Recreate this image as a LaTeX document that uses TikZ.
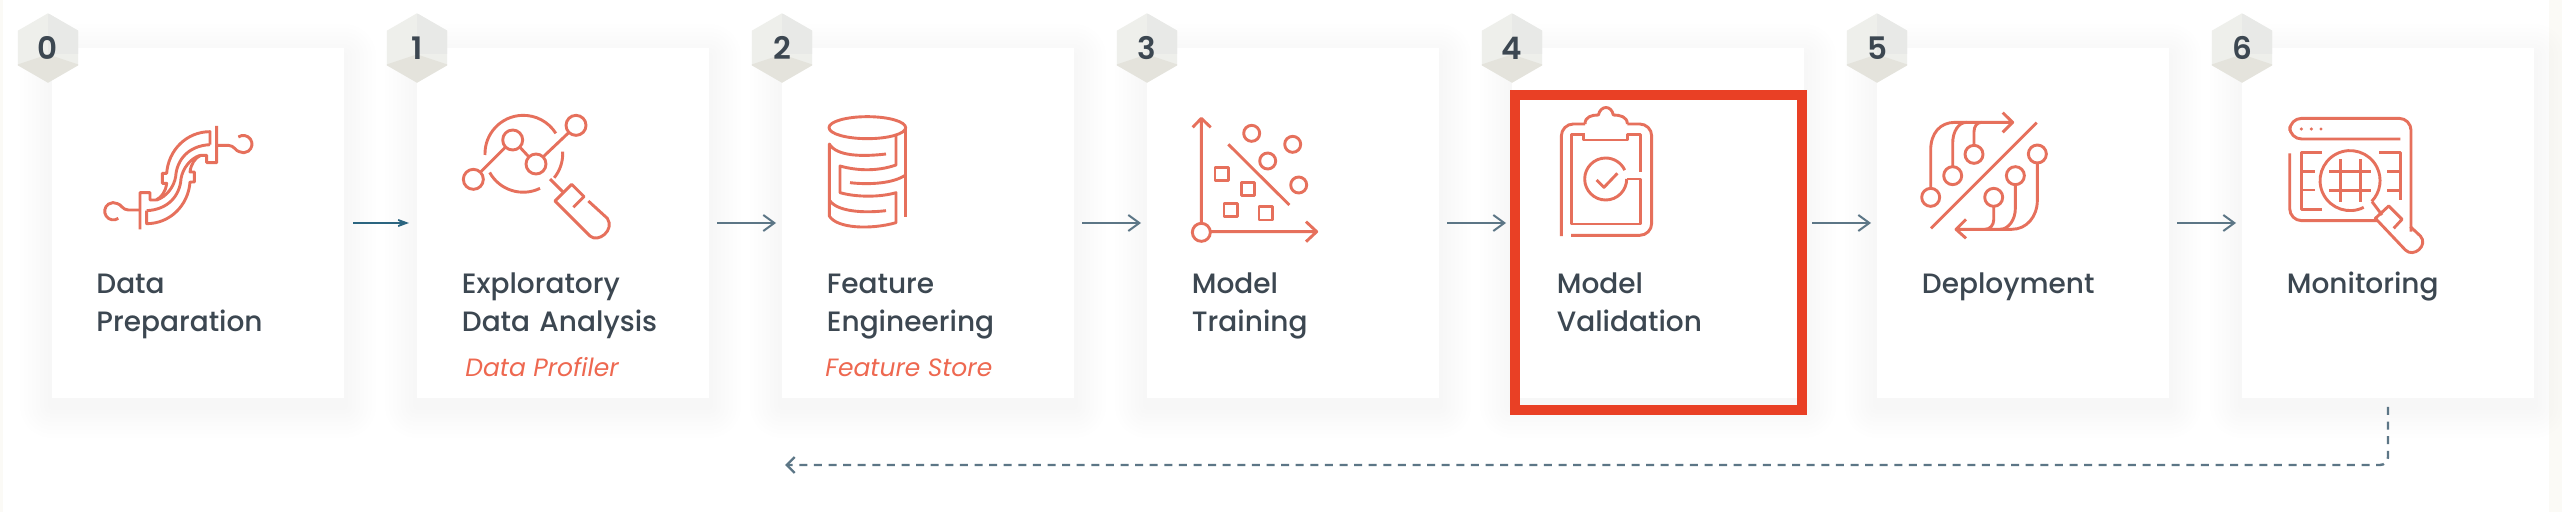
\documentclass[tikz,border=0pt]{standalone}
\usepackage{fontspec}
\setmainfont{Poppins}[UprightFont=* Medium, BoldFont=* SemiBold, ItalicFont=* Italic]
\usetikzlibrary{shapes.geometric, arrows.meta, positioning, backgrounds}
\definecolor{iconred}{RGB}{230, 112, 92}
\definecolor{toolred}{RGB}{238, 104, 80}
\definecolor{boxred}{RGB}{233, 64, 37}
\definecolor{inkgrey}{RGB}{60, 71, 81}
\definecolor{flowgrey}{RGB}{92, 118, 134}
\definecolor{flowteal}{RGB}{43, 101, 128}
\definecolor{facelight}{RGB}{238, 239, 235}
\definecolor{faceright}{RGB}{232, 233, 231}
\definecolor{facebase}{RGB}{228, 227, 220}
\definecolor{edgetint}{RGB}{251, 250, 246}
\tikzset{
  stepcard/.style={fill=white, minimum width=146pt, minimum height=175pt, inner sep=0pt, outer sep=0pt},
  stepbadge/.style={regular polygon, regular polygon sides=6, shape border rotate=30, minimum size=69.4pt/2,
    inner sep=0pt, fill=facelight, text=inkgrey, font=\fontsize{15.5pt}{16pt}\selectfont\bfseries,
    path picture={
      \coordinate (cubemid) at ([yshift=-3.2pt]path picture bounding box.center);
      \fill[faceright] (cubemid) rectangle ([xshift=20pt,yshift=20pt]cubemid);
      \fill[facebase] (cubemid) -- ++(-45,15) -- ++(0,40) -- ++(90,0) -- ++(0,-40) -- cycle;
    }},
  steplabel/.style={anchor=north west, inner sep=0pt, text width=135pt, align=left, text=inkgrey,
    font=\fontsize{14pt}{19pt}\selectfont, execute at begin node=\strut},
  steptool/.style={anchor=base west, inner sep=0pt, text=toolred, font=\fontsize{12.5pt}{14pt}\selectfont\itshape},
  flowarrow/.style={draw=flowgrey, line width=1pt, -{Straight Barb[length=5.5pt,width=8pt]}, shorten <=8pt/2, shorten >=6pt/2},
  firstarrow/.style={draw=flowteal, line width=0.8pt, -{Stealth[length=9.5pt,width=7pt,inset=6pt]}, shorten <=9pt/2, shorten >=8pt/2},
  loopback/.style={draw=flowgrey, line width=1.2pt, dash pattern=on 4pt off 3.3pt, rounded corners=4pt, -{Straight Barb[length=4pt,width=8pt]}},
  highlightbox/.style={draw=boxred, line width=5pt, minimum width=143.5pt, minimum height=157.5pt},
  iconline/.style={x=0.16667pt, y=-0.16667pt, color=iconred, line width=1.45pt, line join=round}
}
\begin{document}
\begin{tikzpicture}[x=0.5pt, y=-0.5pt]
  \useasboundingbox (0,0) rectangle (2562,512);

  \node[stepcard] (prep) at (198,223) {};
  \node[stepcard, right=36.5pt of prep] (explore) {};
  \node[stepcard, right=36.5pt of explore] (feature) {};
  \node[stepcard, right=36.5pt of feature] (training) {};
  \node[stepcard, right=36.5pt of training] (validation) {};
  \node[stepcard, right=36.5pt of validation] (deploy) {};
  \node[stepcard, right=36.5pt of deploy] (monitor) {};

  \begin{pgfonlayer}{background}
    \fill[white] (0,0) rectangle (2562,512);
    \fill[edgetint] (0,0) rectangle (3,512);
    \fill[edgetint] (2549,0) rectangle (2562,512);
    \foreach \card in {prep,explore,feature,training,validation,deploy,monitor}
      \foreach \g in {4,8,...,32}
        \fill[black, opacity=0.004, rounded corners=\g*0.5pt]
          ([shift={(-\g,-\g+8)}]\card.north west) rectangle ([shift={(\g,\g+8)}]\card.south east);
  \end{pgfonlayer}

  \node[stepbadge] (badge0) at ([xshift=-2pt]prep.north west) {0};
  \node[stepbadge] (badge1) at (explore.north west) {1};
  \node[stepbadge] (badge2) at (feature.north west) {2};
  \node[stepbadge] (badge3) at (training.north west) {3};
  \node[stepbadge] (badge4) at (validation.north west) {4};
  \node[stepbadge] (badge5) at (deploy.north west) {5};
  \node[stepbadge] (badge6) at (monitor.north west) {6};

  \node[steplabel] (preplabel) at ([shift={(44,218.4)}]prep.north west) {Data\\Preparation};
  \node[steplabel] (explorelabel) at ([shift={(44.5,218.4)}]explore.north west) {Exploratory\\Data Analysis};
  \node[steplabel] (featurelabel) at ([shift={(44.5,218.4)}]feature.north west) {Feature\\Engineering};
  \node[steplabel] (traininglabel) at ([shift={(44.5,218.4)}]training.north west) {Model\\Training};
  \node[steplabel] (validationlabel) at ([shift={(44.5,218.4)}]validation.north west) {Model\\Validation};
  \node[steplabel] (deploylabel) at ([shift={(44.5,218.4)}]deploy.north west) {Deployment};
  \node[steplabel] (monitorlabel) at ([shift={(44.5,218.4)}]monitor.north west) {Monitoring};

  \node[steptool] (profiler) at ([shift={(48,329)}]explore.north west) {Data Profiler};
  \node[steptool] (store) at ([shift={(43,329)}]feature.north west) {Feature Store};

  \draw[firstarrow] (prep) -- (explore);
  \draw[flowarrow] (explore) -- (feature);
  \draw[flowarrow] (feature) -- (training);
  \draw[flowarrow] (training) -- (validation);
  \draw[flowarrow] (validation) -- (deploy);
  \draw[flowarrow] (deploy) -- (monitor);

  \coordinate (loopend) at (785,465);
  \draw[loopback] ([yshift=-4.5pt]monitor.south) |- (loopend);

  \node[highlightbox] (highlight) at (1658.5,252.5) {};

  \begin{scope}[iconline]
    \draw (355,655) arc[start angle=55, end angle=300, radius=26] .. controls (362,612) and (368,630) .. (385,630) -- (420,630);
    \draw (420,688) -- (420,578) -- (450,578) -- (450,600) -- (468,600) .. controls (485,592) and (497,575) .. (500,550) -- (487,550) -- (487,520) -- (500,520) .. controls (505,450) and (560,395) .. (630,395) -- (630,434);
    \draw (630,434) .. controls (565,437) and (530,480) .. (527,530) .. controls (522,560) and (500,590) .. (470,600);
    \draw (715,411) arc[start angle=235, end angle=480, radius=26] .. controls (708,454) and (702,436) .. (685,436) -- (650,436);
    \draw (650,378) -- (650,488) -- (620,488) -- (620,466) -- (602,466) .. controls (585,474) and (573,491) .. (570,516) -- (583,516) -- (583,546) -- (570,546) .. controls (565,616) and (510,671) .. (440,671) -- (440,632);
    \draw (440,632) .. controls (505,629) and (540,586) .. (543,536) .. controls (548,506) and (570,476) .. (600,466);
  \end{scope}

  \begin{scope}[iconline, xshift=185pt]
    \draw (345,465) arc[start angle=178, end angle=328, radius=115];
    \draw (578,455) arc[start angle=-3, end angle=39, radius=115];
    \draw (510,565) arc[start angle=64, end angle=151, radius=115];
    \foreach \dx/\dy in {310/538,428/420,498/492,618/376}
      \draw (\dx,\dy) circle[radius=30];
    \draw (332,516) -- (406,442) (450,442) -- (476,470) (520,470) -- (596,398);
    \draw (540,537) -- (580,577);
    \draw (610,622) -- (642,590) -- (605,553) -- (555,603) -- (660,708) .. controls (685,730) and (735,690) .. (712,655) -- (655,603);
  \end{scope}

  \begin{scope}[iconline, xshift=365pt]
    \draw (412,383) ellipse[x radius=115, y radius=33];
    \draw (527,383) -- (527,652);
    \draw (498,408) -- (498,495) .. controls (440,515) and (380,512) .. (330,498) -- (330,578) .. controls (380,592) and (450,592) .. (498,578) -- (498,668) .. controls (420,690) and (320,685) .. (298,648) -- (298,432) .. controls (320,470) and (400,470) .. (468,462);
    \draw (527,525) .. controls (490,550) and (420,555) .. (360,548);
    \draw (298,600) .. controls (320,635) and (400,640) .. (468,632);
  \end{scope}

  \begin{scope}[iconline, xshift=550pt]
    \draw (304,697) circle[radius=27];
    \draw (304,670) -- (304,355) (278,382) -- (304,355) -- (332,382);
    \draw (331,695) -- (650,695) (618,665) -- (650,695) -- (618,725);
    \draw (385,433) -- (568,615);
    \foreach \dx/\dy in {455/400,578/433,503/483,596/555}
      \draw (\dx,\dy) circle[radius=24];
    \foreach \dx/\dy in {365/522,444/567,392/630,497/640}
      \draw (\dx-20,\dy-20) rectangle (\dx+20,\dy+20);
  \end{scope}

  \begin{scope}[iconline, xshift=735pt]
    \draw[rounded corners=6pt] (274,708) -- (274,372) -- (345,372);
    \draw (345,372) .. controls (345,350) and (365,345) .. (385,345) .. controls (392,315) and (424,315) .. (430,345) .. controls (450,345) and (472,350) .. (472,372);
    \draw[rounded corners=6pt] (472,372) -- (545,372) -- (545,706) -- (303,706);
    \draw (345,403) -- (305,403) -- (305,672) -- (512,672) -- (512,537) -- (470,537);
    \draw (512,515) -- (512,403) -- (472,403) -- (472,420) -- (340,420) -- (340,403);
    \draw (470,537) arc[start angle=0, end angle=335, radius=63];
    \draw (380,540) -- (402,562) -- (442,520);
  \end{scope}

  \begin{scope}[iconline, xshift=915pt]
    \draw (303,685) -- (620,368);
    \draw (302,565) -- (302,450) .. controls (302,400) and (330,367) .. (375,367) -- (548,367) (518,338) -- (548,367) -- (518,397);
    \draw (368,500) -- (368,430) .. controls (368,395) and (385,367) .. (410,367);
    \draw (432,437) -- (432,395) .. controls (432,380) and (440,367) .. (455,367);
    \draw (622,489) -- (622,600) .. controls (622,650) and (590,688) .. (545,688) -- (378,688) (408,658) -- (378,688) -- (408,715);
    \draw (556,554) -- (556,625) .. controls (556,660) and (535,688) .. (510,688);
    \draw (491,619) -- (491,660) .. controls (491,675) and (480,688) .. (465,688);
    \foreach \dx/\dy in {302/592,368/527,432/463,622/462,556/527,491/592}
      \draw (\dx,\dy) circle[radius=27];
  \end{scope}

  \begin{scope}[iconline, xshift=1071pt]
    \draw[rounded corners=6pt] (775,417) -- (443,417) -- (443,355) -- (807,355) -- (807,695);
    \draw[rounded corners=6pt] (443,460) -- (443,662) -- (705,662);
    \foreach \dx in {478,508,537}
      \fill (\dx,387) circle[radius=5];
    \draw (540,458) -- (478,458) -- (478,628) -- (540,628) (478,515) -- (520,515) (478,570) -- (520,570);
    \draw (712,458) -- (775,458) -- (775,600) (735,515) -- (775,515) (735,572) -- (775,572);
    \draw (665,622) arc[start angle=63, end angle=404, radius=90];
    \draw (595,478) -- (595,605) (655,478) -- (655,605) (562,515) -- (688,515) (562,572) -- (688,572);
    \draw (690,605) -- (720,645);
    \draw (755,685) -- (780,658) -- (740,618) -- (700,655) -- (790,750) .. controls (815,775) and (860,735) .. (835,708) -- (805,680);
  \end{scope}
\end{tikzpicture}
\end{document}
